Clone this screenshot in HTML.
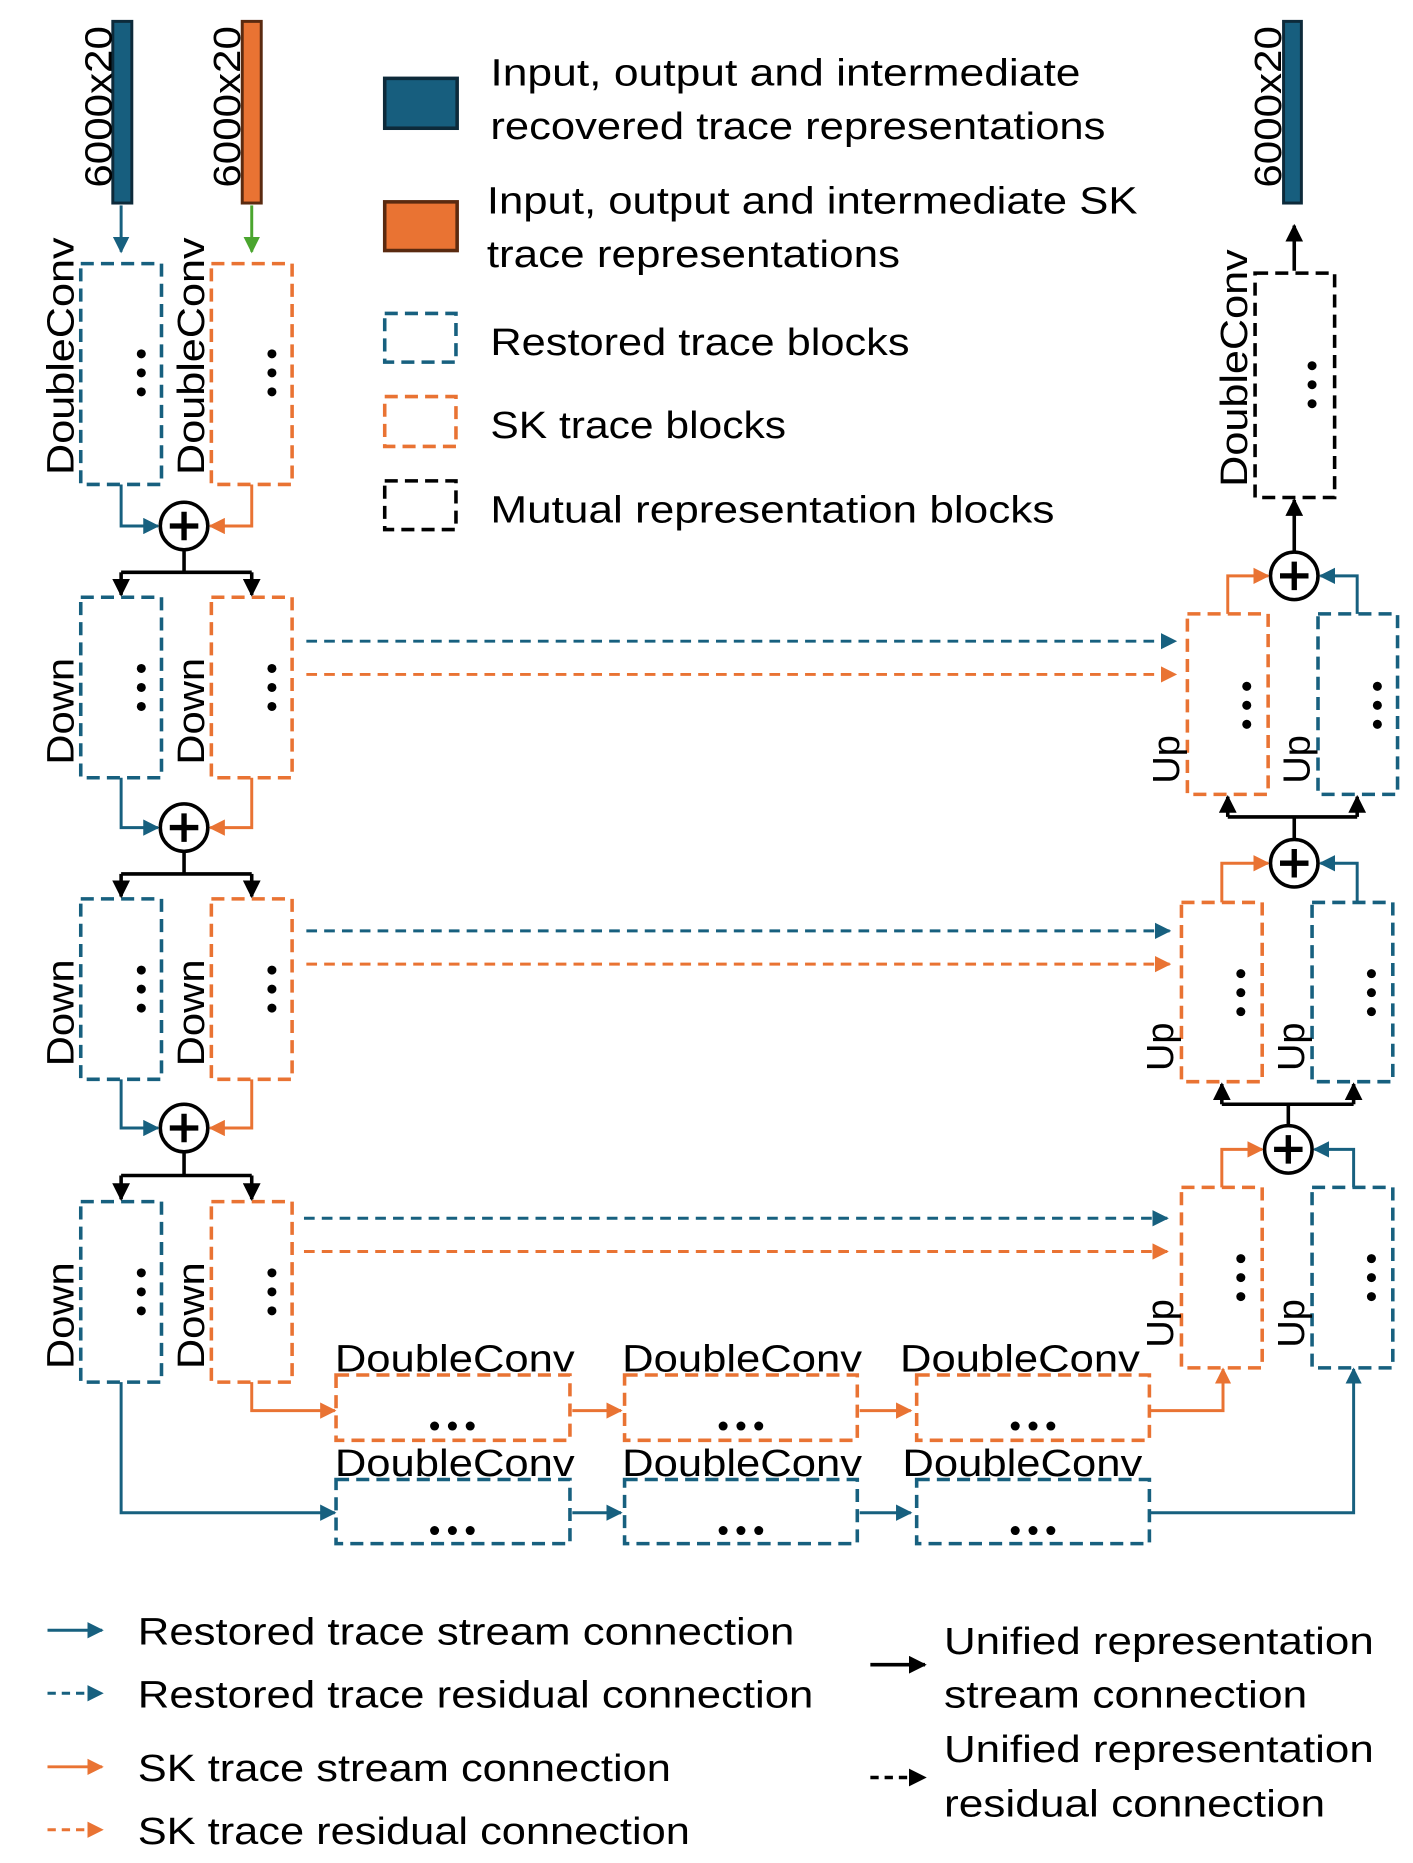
<!DOCTYPE html>
<html><head><meta charset="utf-8"><style>html,body{margin:0;padding:0;background:#fff}svg{display:block}</style></head>
<body>
<svg width="1413" height="1863" viewBox="0 0 1190 1569" xmlns="http://www.w3.org/2000/svg" font-family="Liberation Sans, sans-serif">
<defs>
<marker id="ab" viewBox="0 0 10 10" refX="9" refY="5" markerWidth="5.5" markerHeight="5.5" orient="auto" markerUnits="strokeWidth"><path d="M0,0L10,5L0,10z" fill="#17607f"/></marker>
<marker id="ao" viewBox="0 0 10 10" refX="9" refY="5" markerWidth="5.5" markerHeight="5.5" orient="auto" markerUnits="strokeWidth"><path d="M0,0L10,5L0,10z" fill="#e97333"/></marker>
<marker id="ak" viewBox="0 0 10 10" refX="9" refY="5" markerWidth="5" markerHeight="5" orient="auto" markerUnits="strokeWidth"><path d="M0,0L10,5L0,10z" fill="#000"/></marker>
<marker id="ag" viewBox="0 0 10 10" refX="9" refY="5" markerWidth="5.5" markerHeight="5.5" orient="auto" markerUnits="strokeWidth"><path d="M0,0L10,5L0,10z" fill="#4aa52e"/></marker>
<g id="plus"><circle cx="0" cy="0" r="20" fill="#fff" stroke="#000" stroke-width="3"/><path d="M-12,0H12M0,-12V12" stroke="#000" stroke-width="4.5"/></g>
</defs>
<style>
.b{fill:none;stroke:#17607f;stroke-width:3;stroke-dasharray:11 6}
.o{fill:none;stroke:#e97333;stroke-width:3;stroke-dasharray:11 6}
.k{fill:none;stroke:#000;stroke-width:3;stroke-dasharray:11 6}
.sb{fill:none;stroke:#17607f;stroke-width:2.5}
.so{fill:none;stroke:#e97333;stroke-width:2.5}
.sk{fill:none;stroke:#000;stroke-width:3}
text{font-size:32px;fill:#000}
</style>

<rect x="95" y="18" width="16" height="153" fill="#175e7e" stroke="#0d2a3a" stroke-width="2.5"/>
<rect x="204" y="18" width="16" height="153" fill="#e97333" stroke="#5a2a10" stroke-width="2.5"/>
<text transform="translate(94,158) rotate(-90)" textLength="136" lengthAdjust="spacingAndGlyphs">6000x20</text>
<text transform="translate(202,158) rotate(-90)" textLength="136" lengthAdjust="spacingAndGlyphs">6000x20</text>
<path d="M102,173V212" class="sb" marker-end="url(#ab)"/>
<path d="M212,173V212" fill="none" stroke="#4aa52e" stroke-width="2.5" marker-end="url(#ag)"/>

<g>
<rect x="68" y="222" width="68" height="186" class="b"/><rect x="178" y="222" width="68" height="186" class="o"/>
<rect x="68" y="503" width="68" height="152" class="b"/><rect x="178" y="503" width="68" height="152" class="o"/>
<rect x="68" y="757" width="68" height="152" class="b"/><rect x="178" y="757" width="68" height="152" class="o"/>
<rect x="68" y="1012" width="68" height="152" class="b"/><rect x="178" y="1012" width="68" height="152" class="o"/>
</g>
<text transform="translate(62,400) rotate(-90)" textLength="200" lengthAdjust="spacingAndGlyphs">DoubleConv</text>
<text transform="translate(172,400) rotate(-90)" textLength="200" lengthAdjust="spacingAndGlyphs">DoubleConv</text>
<text transform="translate(62,644) rotate(-90)" textLength="90" lengthAdjust="spacingAndGlyphs">Down</text><text transform="translate(172,644) rotate(-90)" textLength="90" lengthAdjust="spacingAndGlyphs">Down</text>
<text transform="translate(62,898) rotate(-90)" textLength="90" lengthAdjust="spacingAndGlyphs">Down</text><text transform="translate(172,898) rotate(-90)" textLength="90" lengthAdjust="spacingAndGlyphs">Down</text>
<text transform="translate(62,1153) rotate(-90)" textLength="90" lengthAdjust="spacingAndGlyphs">Down</text><text transform="translate(172,1153) rotate(-90)" textLength="90" lengthAdjust="spacingAndGlyphs">Down</text>

<g fill="#000">
<circle cx="119" cy="298" r="3.8"/><circle cx="119" cy="314" r="3.8"/><circle cx="119" cy="330" r="3.8"/>
<circle cx="229" cy="298" r="3.8"/><circle cx="229" cy="314" r="3.8"/><circle cx="229" cy="330" r="3.8"/>
<circle cx="119" cy="563" r="3.8"/><circle cx="119" cy="579" r="3.8"/><circle cx="119" cy="595" r="3.8"/>
<circle cx="229" cy="563" r="3.8"/><circle cx="229" cy="579" r="3.8"/><circle cx="229" cy="595" r="3.8"/>
<circle cx="119" cy="817" r="3.8"/><circle cx="119" cy="833" r="3.8"/><circle cx="119" cy="849" r="3.8"/>
<circle cx="229" cy="817" r="3.8"/><circle cx="229" cy="833" r="3.8"/><circle cx="229" cy="849" r="3.8"/>
<circle cx="119" cy="1072" r="3.8"/><circle cx="119" cy="1088" r="3.8"/><circle cx="119" cy="1104" r="3.8"/>
<circle cx="229" cy="1072" r="3.8"/><circle cx="229" cy="1088" r="3.8"/><circle cx="229" cy="1104" r="3.8"/>
</g>

<path d="M102,408V443H133" class="sb" marker-end="url(#ab)"/><path d="M212,408V443H177" class="so" marker-end="url(#ao)"/>
<use href="#plus" x="155" y="443"/>
<path d="M155,463V482" class="sk"/><path d="M102,482H212" class="sk"/>
<path d="M102,482V501" class="sk" marker-end="url(#ak)"/><path d="M212,482V501" class="sk" marker-end="url(#ak)"/>

<path d="M102,655V697H133" class="sb" marker-end="url(#ab)"/><path d="M212,655V697H177" class="so" marker-end="url(#ao)"/>
<use href="#plus" x="155" y="697"/>
<path d="M155,717V736" class="sk"/><path d="M102,736H212" class="sk"/>
<path d="M102,736V755" class="sk" marker-end="url(#ak)"/><path d="M212,736V755" class="sk" marker-end="url(#ak)"/>

<path d="M102,909V950H133" class="sb" marker-end="url(#ab)"/><path d="M212,909V950H177" class="so" marker-end="url(#ao)"/>
<use href="#plus" x="155" y="950"/>
<path d="M155,970V990" class="sk"/><path d="M102,990H212" class="sk"/>
<path d="M102,990V1010" class="sk" marker-end="url(#ak)"/><path d="M212,990V1010" class="sk" marker-end="url(#ak)"/>

<path d="M258,540H990" class="sb" stroke-dasharray="9 6" marker-end="url(#ab)"/>
<path d="M258,568H990" class="so" stroke-dasharray="9 6" marker-end="url(#ao)"/>
<path d="M258,784H985" class="sb" stroke-dasharray="9 6" marker-end="url(#ab)"/>
<path d="M258,812H985" class="so" stroke-dasharray="9 6" marker-end="url(#ao)"/>
<path d="M256,1026H983" class="sb" stroke-dasharray="9 6" marker-end="url(#ab)"/>
<path d="M256,1054H983" class="so" stroke-dasharray="9 6" marker-end="url(#ao)"/>

<rect x="283" y="1158" width="197" height="55" class="o"/><rect x="526" y="1158" width="196" height="55" class="o"/><rect x="772" y="1158" width="196" height="55" class="o"/>
<rect x="283" y="1246" width="197" height="54" class="b"/><rect x="526" y="1246" width="196" height="54" class="b"/><rect x="772" y="1246" width="196" height="54" class="b"/>
<text x="282" y="1155" textLength="202" lengthAdjust="spacingAndGlyphs">DoubleConv</text>
<text x="524" y="1155" textLength="202" lengthAdjust="spacingAndGlyphs">DoubleConv</text>
<text x="758" y="1155" textLength="202" lengthAdjust="spacingAndGlyphs">DoubleConv</text>
<text x="282" y="1243" textLength="202" lengthAdjust="spacingAndGlyphs">DoubleConv</text>
<text x="524" y="1243" textLength="202" lengthAdjust="spacingAndGlyphs">DoubleConv</text>
<text x="760" y="1243" textLength="202" lengthAdjust="spacingAndGlyphs">DoubleConv</text>
<g fill="#000">
<circle cx="366" cy="1201" r="3.8"/><circle cx="381" cy="1201" r="3.8"/><circle cx="396" cy="1201" r="3.8"/>
<circle cx="609" cy="1201" r="3.8"/><circle cx="624" cy="1201" r="3.8"/><circle cx="639" cy="1201" r="3.8"/>
<circle cx="855" cy="1201" r="3.8"/><circle cx="870" cy="1201" r="3.8"/><circle cx="885" cy="1201" r="3.8"/>
<circle cx="366" cy="1289" r="3.8"/><circle cx="381" cy="1289" r="3.8"/><circle cx="396" cy="1289" r="3.8"/>
<circle cx="609" cy="1289" r="3.8"/><circle cx="624" cy="1289" r="3.8"/><circle cx="639" cy="1289" r="3.8"/>
<circle cx="855" cy="1289" r="3.8"/><circle cx="870" cy="1289" r="3.8"/><circle cx="885" cy="1289" r="3.8"/>
</g>
<path d="M212,1164V1188H282" class="so" marker-end="url(#ao)"/>
<path d="M482,1188H523" class="so" marker-end="url(#ao)"/><path d="M724,1188H767" class="so" marker-end="url(#ao)"/>
<path d="M968,1188H1030V1153" class="so" marker-end="url(#ao)"/>
<path d="M102,1164V1274H282" class="sb" marker-end="url(#ab)"/>
<path d="M482,1274H523" class="sb" marker-end="url(#ab)"/><path d="M724,1274H767" class="sb" marker-end="url(#ab)"/>
<path d="M968,1274H1140V1153" class="sb" marker-end="url(#ab)"/>

<rect x="1000" y="517" width="68" height="152" class="o"/><rect x="1110" y="517" width="67" height="152" class="b"/>
<rect x="995" y="760" width="68" height="151" class="o"/><rect x="1105" y="760" width="68" height="151" class="b"/>
<rect x="995" y="1000" width="68" height="152" class="o"/><rect x="1105" y="1000" width="68" height="152" class="b"/>
<text transform="translate(993,660) rotate(-90)">Up</text><text transform="translate(1103,660) rotate(-90)">Up</text>
<text transform="translate(988,902) rotate(-90)">Up</text><text transform="translate(1098,902) rotate(-90)">Up</text>
<text transform="translate(988,1135) rotate(-90)">Up</text><text transform="translate(1098,1135) rotate(-90)">Up</text>
<g fill="#000">
<circle cx="1050" cy="578" r="3.8"/><circle cx="1050" cy="594" r="3.8"/><circle cx="1050" cy="610" r="3.8"/>
<circle cx="1160" cy="578" r="3.8"/><circle cx="1160" cy="594" r="3.8"/><circle cx="1160" cy="610" r="3.8"/>
<circle cx="1045" cy="820" r="3.8"/><circle cx="1045" cy="836" r="3.8"/><circle cx="1045" cy="852" r="3.8"/>
<circle cx="1155" cy="820" r="3.8"/><circle cx="1155" cy="836" r="3.8"/><circle cx="1155" cy="852" r="3.8"/>
<circle cx="1045" cy="1060" r="3.8"/><circle cx="1045" cy="1076" r="3.8"/><circle cx="1045" cy="1092" r="3.8"/>
<circle cx="1155" cy="1060" r="3.8"/><circle cx="1155" cy="1076" r="3.8"/><circle cx="1155" cy="1092" r="3.8"/>
<circle cx="1105" cy="308" r="3.8"/><circle cx="1105" cy="324" r="3.8"/><circle cx="1105" cy="340" r="3.8"/>
</g>
<path d="M1034,517V485H1068" class="so" marker-end="url(#ao)"/><path d="M1143,517V485H1112" class="sb" marker-end="url(#ab)"/>
<use href="#plus" x="1090" y="485"/>
<path d="M1090,465V421" class="sk" marker-end="url(#ak)"/>
<rect x="1057" y="230" width="67" height="189" class="k"/>
<text transform="translate(1050,410) rotate(-90)" textLength="200" lengthAdjust="spacingAndGlyphs">DoubleConv</text>
<path d="M1090,228V190" class="sk" marker-end="url(#ak)"/>
<rect x="1081" y="18" width="15" height="153" fill="#175e7e" stroke="#0d2a3a" stroke-width="2.5"/>
<text transform="translate(1079,158) rotate(-90)" textLength="136" lengthAdjust="spacingAndGlyphs">6000x20</text>
<path d="M1090,707V688" class="sk"/><path d="M1034,688H1143" class="sk"/>
<path d="M1034,688V671" class="sk" marker-end="url(#ak)"/><path d="M1143,688V671" class="sk" marker-end="url(#ak)"/>
<path d="M1029,760V727H1068" class="so" marker-end="url(#ao)"/><path d="M1143,760V727H1112" class="sb" marker-end="url(#ab)"/>
<use href="#plus" x="1090" y="727"/>
<path d="M1085,948V930" class="sk"/><path d="M1029,930H1140" class="sk"/>
<path d="M1029,930V913" class="sk" marker-end="url(#ak)"/><path d="M1140,930V913" class="sk" marker-end="url(#ak)"/>
<path d="M1029,1000V968H1063" class="so" marker-end="url(#ao)"/><path d="M1140,1000V968H1107" class="sb" marker-end="url(#ab)"/>
<use href="#plus" x="1085" y="968"/>

<rect x="324" y="66" width="61" height="42" fill="#175e7e" stroke="#0d2a3a" stroke-width="3"/>
<rect x="324" y="170" width="61" height="41" fill="#e97333" stroke="#5a2a10" stroke-width="3"/>
<rect x="324" y="264" width="60" height="41" class="b"/>
<rect x="324" y="334" width="60" height="42" class="o"/>
<rect x="324" y="405" width="60" height="41" class="k"/>
<text x="413" y="72" textLength="497" lengthAdjust="spacingAndGlyphs">Input, output and intermediate</text>
<text x="413" y="117" textLength="518" lengthAdjust="spacingAndGlyphs">recovered trace representations</text>
<text x="410" y="180" textLength="548" lengthAdjust="spacingAndGlyphs">Input, output and intermediate SK</text>
<text x="410" y="225" textLength="348" lengthAdjust="spacingAndGlyphs">trace representations</text>
<text x="413" y="299" textLength="353" lengthAdjust="spacingAndGlyphs">Restored trace blocks</text>
<text x="413" y="369" textLength="249" lengthAdjust="spacingAndGlyphs">SK trace blocks</text>
<text x="413" y="440" textLength="475" lengthAdjust="spacingAndGlyphs">Mutual representation blocks</text>

<path d="M40,1373H86" class="sb" marker-end="url(#ab)"/>
<path d="M40,1426H86" class="sb" stroke-dasharray="7 5" marker-end="url(#ab)"/>
<path d="M40,1488H86" class="so" marker-end="url(#ao)"/>
<path d="M40,1541H86" class="so" stroke-dasharray="7 5" marker-end="url(#ao)"/>
<path d="M733,1402H779" class="sk" stroke-width="2.5" marker-end="url(#ak)"/>
<path d="M733,1497H779" class="sk" stroke-width="2.5" stroke-dasharray="7 5" marker-end="url(#ak)"/>
<text x="116" y="1385" textLength="553" lengthAdjust="spacingAndGlyphs">Restored trace stream connection</text>
<text x="116" y="1438" textLength="569" lengthAdjust="spacingAndGlyphs">Restored trace residual connection</text>
<text x="116" y="1500" textLength="449" lengthAdjust="spacingAndGlyphs">SK trace stream connection</text>
<text x="116" y="1553" textLength="465" lengthAdjust="spacingAndGlyphs">SK trace residual connection</text>
<text x="795" y="1393" textLength="362" lengthAdjust="spacingAndGlyphs">Unified representation</text>
<text x="795" y="1438" textLength="306" lengthAdjust="spacingAndGlyphs">stream connection</text>
<text x="795" y="1484" textLength="362" lengthAdjust="spacingAndGlyphs">Unified representation</text>
<text x="795" y="1530" textLength="321" lengthAdjust="spacingAndGlyphs">residual connection</text>
</svg>
</body></html>
